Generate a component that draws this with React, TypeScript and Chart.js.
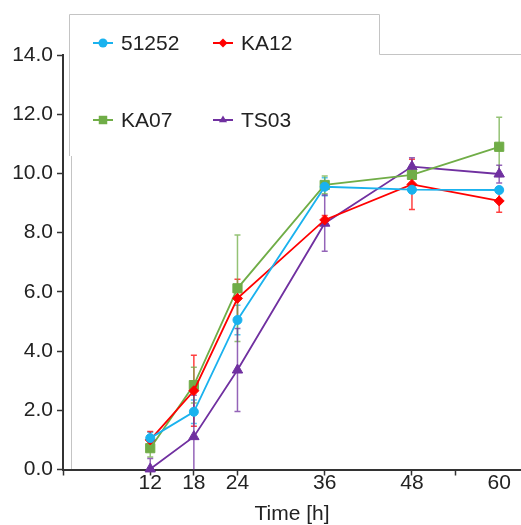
import React, { useEffect, useRef } from 'react';
import { Chart, registerables } from 'chart.js';

Chart.register(...registerables);

// ---- data ----
const hours = [12, 18, 24, 36, 48, 60];
const xTickValues = [0, 12, 18, 24, 36, 48, 54, 60];
const xTickLabels = ['', '12', '18', '24', '36', '48', '', '60'];
const yMin = 0;
const yMax = 14;
const yStep = 2;
const xTitle = 'Time [h]';

const seriesNames = ['51252', 'KA12', 'KA07', 'TS03'];
const values51252 = [1.06, 1.95, 5.05, 9.55, 9.45, 9.44];
const err51252 = [0.2, 0.4, 0.5, 0.3, 0.1, 0.1];
const valuesKA12 = [1.0, 2.66, 5.78, 8.43, 9.63, 9.07];
const errKA12 = [0.28, 1.2, 0.65, 0.15, 0.85, 0.38];
const valuesKA07 = [0.72, 2.85, 6.12, 9.61, 9.95, 10.9];
const errKA07 = [0.3, 0.6, 1.8, 0.3, 0.15, 1.0];
const valuesTS03 = [0.02, 1.11, 3.36, 8.32, 10.23, 9.98];
const errTS03 = [0.35, 1.4, 1.4, 0.95, 0.3, 0.3];

// ---- styles ----
const colors = ['#1ab2ee', '#ff0000', '#70ad47', '#7030a0'];
const pointStyles = ['circle', 'rectRot', 'rect', 'triangle'];
const pointRadii = [4.5, 5, 6.5, 6];
const FONT = '"Liberation Sans", Arial, Helvetica, sans-serif';
const TEXT = '#222222';
const AXIS = '#333333';

const allValues = [values51252, valuesKA12, valuesKA07, valuesTS03];
const allErrors = [err51252, errKA12, errKA07, errTS03];

function withAlpha(hex: string, a: number) {
  const r = parseInt(hex.slice(1, 3), 16);
  const g = parseInt(hex.slice(3, 5), 16);
  const b = parseInt(hex.slice(5, 7), 16);
  return `rgba(${r},${g},${b},${a})`;
}

function drawMarker(ctx: CanvasRenderingContext2D, style: string, x: number, y: number, r: number, color: string) {
  ctx.save();
  ctx.fillStyle = color;
  ctx.strokeStyle = color;
  ctx.beginPath();
  if (style === 'circle') {
    ctx.arc(x, y, r, 0, Math.PI * 2);
  } else if (style === 'rectRot') {
    ctx.moveTo(x, y - r);
    ctx.lineTo(x + r, y);
    ctx.lineTo(x, y + r);
    ctx.lineTo(x - r, y);
    ctx.closePath();
  } else if (style === 'rect') {
    const s = r * Math.SQRT1_2;
    ctx.rect(x - s, y - s, 2 * s, 2 * s);
  } else {
    const h = r * 1.5;
    ctx.moveTo(x, y - r);
    ctx.lineTo(x + r * 0.9, y + h - r);
    ctx.lineTo(x - r * 0.9, y + h - r);
    ctx.closePath();
  }
  ctx.fill();
  ctx.restore();
}

const errorBarPlugin = {
  id: 'errorBars',
  beforeDatasetsDraw(chart: any) {
    const { ctx, chartArea } = chart;
    const xs = chart.scales.x;
    const ys = chart.scales.y;
    ctx.save();
    ctx.beginPath();
    ctx.rect(chartArea.left, chartArea.top, chartArea.right - chartArea.left, chartArea.bottom - chartArea.top);
    ctx.clip();
    allValues.forEach((vals, si) => {
      ctx.strokeStyle = withAlpha(colors[si], 0.75);
      ctx.lineWidth = 1.5;
      vals.forEach((v, i) => {
        const e = allErrors[si][i];
        const x = xs.getPixelForValue(hours[i]);
        const yT = ys.getPixelForValue(v + e);
        const yB = ys.getPixelForValue(v - e);
        ctx.beginPath();
        ctx.moveTo(x, yT);
        ctx.lineTo(x, yB);
        ctx.moveTo(x - 3, yT);
        ctx.lineTo(x + 3, yT);
        ctx.moveTo(x - 3, yB);
        ctx.lineTo(x + 3, yB);
        ctx.stroke();
      });
    });
    ctx.restore();
  },
};

const framePlugin = {
  id: 'frame',
  beforeDraw(chart: any) {
    const { ctx } = chart;
    ctx.save();
    ctx.strokeStyle = '#c4c4c4';
    ctx.lineWidth = 1;
    ctx.beginPath();
    ctx.moveTo(69.5, 156);
    ctx.lineTo(69.5, 14.5);
    ctx.lineTo(379.5, 14.5);
    ctx.lineTo(379.5, 54.5);
    ctx.lineTo(521, 54.5);
    ctx.moveTo(71.5, 156);
    ctx.lineTo(71.5, 469);
    ctx.stroke();
    ctx.restore();
  },
};

const legendPlugin = {
  id: 'customLegend',
  afterDraw(chart: any) {
    const { ctx } = chart;
    const spots = [
      { x: 103, y: 43 },
      { x: 223, y: 43 },
      { x: 103, y: 120 },
      { x: 223, y: 120 },
    ];
    ctx.save();
    ctx.font = `21px ${FONT}`;
    ctx.textBaseline = 'middle';
    ctx.textAlign = 'left';
    seriesNames.forEach((name, i) => {
      const { x, y } = spots[i];
      ctx.strokeStyle = colors[i];
      ctx.lineWidth = 2;
      ctx.beginPath();
      ctx.moveTo(x - 10, y);
      ctx.lineTo(x + 10, y);
      ctx.stroke();
      drawMarker(ctx, pointStyles[i], x, y, i === 2 ? 6 : 4.5, colors[i]);
      ctx.fillStyle = TEXT;
      ctx.fillText(name, x + 18, y + 1);
    });
    ctx.restore();
  },
};

export default function App() {
  const canvasRef = useRef<HTMLCanvasElement | null>(null);

  useEffect(() => {
    if (!canvasRef.current) return;
    const chart = new Chart(canvasRef.current, {
      type: 'line',
      data: {
        datasets: seriesNames.map((name, si) => ({
          label: name,
          data: allValues[si].map((v, i) => ({ x: hours[i], y: v })),
          borderColor: colors[si],
          backgroundColor: colors[si],
          pointBackgroundColor: colors[si],
          pointBorderColor: colors[si],
          pointStyle: pointStyles[si] as any,
          pointRadius: pointRadii[si],
          pointBorderWidth: 1,
          borderWidth: 1.8,
          tension: 0,
          clip: false as any,
        })),
      },
      options: {
        animation: false,
        responsive: false,
        devicePixelRatio: 1,
        layout: { autoPadding: false, padding: { left: 0, right: 0, top: 55, bottom: 0 } },
        plugins: {
          legend: { display: false },
          tooltip: { enabled: false },
        },
        scales: {
          x: {
            type: 'linear',
            min: 0,
            max: 63,
            afterBuildTicks: (axis: any) => {
              axis.ticks = xTickValues.map((v) => ({ value: v }));
            },
            afterFit: (axis: any) => {
              axis.height = 55.5;
              axis.paddingRight = 0;
              axis.paddingLeft = 0;
            },
            grid: {
              drawOnChartArea: false,
              drawTicks: true,
              tickLength: 6,
              tickWidth: 1.5,
              tickColor: (c: any) => (c.tick && c.tick.value === 60 ? 'rgba(0,0,0,0)' : AXIS),
            },
            border: { display: true, color: AXIS, width: 2 },
            ticks: {
              autoSkip: false,
              maxRotation: 0,
              padding: -5,
              color: TEXT,
              font: { family: FONT, size: 21 },
              callback: (value: any) => {
                const idx = xTickValues.indexOf(Number(value));
                return idx >= 0 ? xTickLabels[idx] : '';
              },
            },
            title: {
              display: true,
              text: xTitle,
              color: TEXT,
              font: { family: FONT, size: 21 },
              padding: { top: 0, bottom: -2 },
            },
          },
          y: {
            type: 'linear',
            min: yMin,
            max: yMax,
            afterFit: (axis: any) => {
              axis.width = 63;
            },
            grid: {
              drawOnChartArea: false,
              drawTicks: true,
              tickLength: 6,
              tickWidth: 1.5,
              tickColor: AXIS,
            },
            border: { display: true, color: AXIS, width: 2 },
            ticks: {
              stepSize: yStep,
              padding: 4,
              color: TEXT,
              font: { family: FONT, size: 21 },
              callback: (value: any) => Number(value).toFixed(1),
            },
          },
        },
      },
      plugins: [framePlugin, errorBarPlugin, legendPlugin],
    });
    return () => chart.destroy();
  }, []);

  return (
    <div style={{ position: 'fixed', left: 0, top: 0, width: 521, height: 525, background: '#fff' }}>
      <canvas ref={canvasRef} width={521} height={525} />
    </div>
  );
}
